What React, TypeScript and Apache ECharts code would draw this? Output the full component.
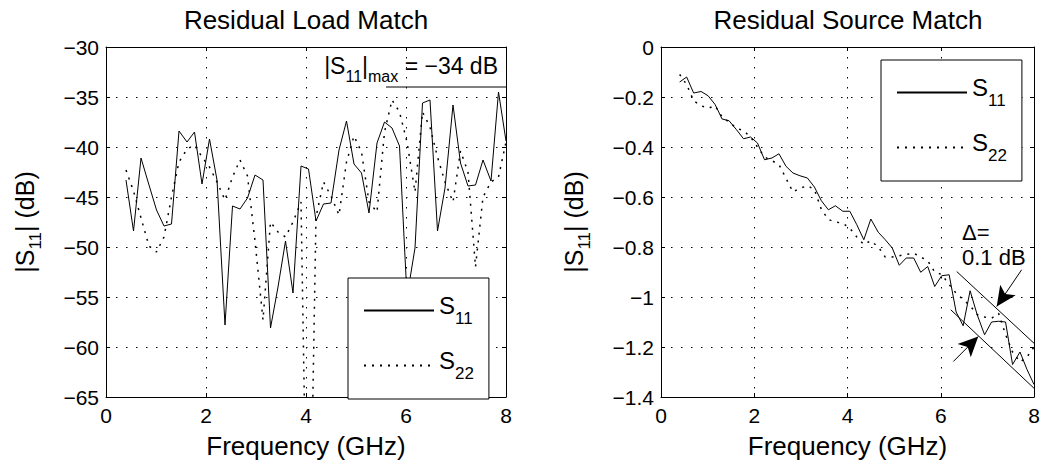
import React, { useEffect, useRef } from "react";
import * as echarts from "echarts";

const FONT = "'Liberation Sans', Arial, Helvetica, sans-serif";

// Frequency grid (GHz)
const freq = [
  0.40, 0.55, 0.70, 0.86, 1.01, 1.16, 1.31, 1.46, 1.62, 1.77,
  1.92, 2.07, 2.22, 2.38, 2.53, 2.68, 2.83, 2.98, 3.14, 3.29,
  3.44, 3.59, 3.74, 3.90, 4.05, 4.20, 4.35, 4.50, 4.66, 4.81,
  4.96, 5.11, 5.26, 5.42, 5.57, 5.72, 5.87, 6.02, 6.18, 6.33,
  6.48, 6.63, 6.78, 6.94, 7.09, 7.24, 7.39, 7.54, 7.70, 7.85, 8.00,
];

// Residual Load Match (dB)
const loadS11 = [
  -43.3, -48.4, -41.1, -43.8, -46.3, -47.9, -47.7, -38.4, -39.5, -38.5,
  -43.7, -39.2, -43.3, -57.8, -45.9, -46.2, -45.1, -42.8, -43.3, -58.1,
  -54.0, -49.4, -54.6, -41.9, -42.2, -47.4, -45.7, -45.6, -40.3, -37.4,
  -41.7, -42.6, -46.6, -39.6, -37.5, -38.1, -39.9, -55.0, -50.1, -35.6,
  -35.3, -48.4, -44.1, -35.8, -41.6, -43.9, -43.8, -41.3, -43.4, -34.5, -39.4,
];
const loadS22 = [
  -42.3, -44.4, -47.1, -49.9, -50.5, -49.0, -45.0, -41.5, -40.2, -39.8,
  -41.0, -42.0, -43.5, -45.3, -43.0, -41.3, -42.9, -49.4, -57.3, -47.5,
  -48.5, -49.0, -47.5, -45.5, -90.0, -47.0, -43.5, -44.9, -46.8, -41.5,
  -38.9, -40.5, -45.5, -46.5, -38.5, -35.3, -36.5, -39.5, -44.5, -36.5,
  -38.0, -41.0, -43.5, -45.5, -40.4, -42.5, -52.0, -45.0, -43.5, -43.0, -39.5,
];

// Residual Source Match (dB)
const srcS11 = [
  -0.14, -0.12, -0.184, -0.178, -0.195, -0.23, -0.288, -0.295, -0.331, -0.367,
  -0.36, -0.384, -0.451, -0.444, -0.427, -0.477, -0.504, -0.515, -0.524, -0.56,
  -0.615, -0.651, -0.635, -0.657, -0.657, -0.711, -0.771, -0.688, -0.741, -0.771,
  -0.804, -0.873, -0.844, -0.844, -0.901, -0.878, -0.958, -0.915, -0.911, -1.06,
  -1.115, -0.975, -1.07, -1.151, -1.10, -1.097, -1.10, -1.27, -1.22, -1.29, -1.35,
];
const srcS22 = [
  -0.11, -0.15, -0.215, -0.235, -0.245, -0.235, -0.28, -0.30, -0.325, -0.335,
  -0.36, -0.40, -0.44, -0.455, -0.47, -0.525, -0.58, -0.565, -0.555, -0.57,
  -0.65, -0.69, -0.70, -0.705, -0.725, -0.76, -0.79, -0.775, -0.80, -0.84,
  -0.84, -0.835, -0.83, -0.825, -0.84, -0.855, -0.90, -0.91, -0.95, -0.985,
  -1.01, -1.035, -1.07, -1.08, -1.085, -1.065, -1.15, -1.22, -1.26, -1.24, -1.20,
];

// Annotations (data coordinates)
const maxLineX = [5.6, 8.0];
const maxLineY = [-34, -34];
const bandUpperX = [6.342, 8.0];
const bandUpperY = [-0.898, -1.185];
const bandLowerX = [6.214, 8.0];
const bandLowerY = [-1.051, -1.365];
const arrowUpper = [[7.735, -0.891], [7.2, -1.038]];
const arrowLower = [[6.27, -1.258], [6.805, -1.158]];

const pair = (xs: number[], ys: number[]) => xs.map((x, i) => [x, ys[i]]);

const minus = (s: string) => s.replace("-", "\u2212");

function mainX(gridIndex: number) {
  return {
    type: "value",
    gridIndex,
    min: 0,
    max: 8,
    interval: 2,
    position: "bottom",
    axisLine: { show: true, onZero: false, lineStyle: { color: "#000", width: 1 } },
    axisTick: { show: true, inside: true, length: 4, lineStyle: { color: "#000" } },
    axisLabel: { color: "#000", fontSize: 21, fontFamily: FONT, margin: 8 },
    splitLine: { show: true, lineStyle: { color: "#000", width: 1, type: [1.5, 8.5] } },
    name: "Frequency (GHz)",
    nameLocation: "middle",
    nameGap: 36,
    nameTextStyle: { color: "#000", fontSize: 26, fontFamily: FONT },
  };
}
function topX(gridIndex: number) {
  return {
    type: "value",
    gridIndex,
    min: 0,
    max: 8,
    interval: 2,
    position: "top",
    axisLine: { show: true, onZero: false, lineStyle: { color: "#000", width: 1 } },
    axisTick: { show: true, inside: true, length: 4, lineStyle: { color: "#000" } },
    axisLabel: { show: false },
    splitLine: { show: false },
  };
}
const yName = "{a||S}{b|11}{a|| (dB)}";
const yNameStyle = {
  color: "#000",
  fontFamily: FONT,
  rich: {
    a: { fontSize: 25, lineHeight: 30, fontFamily: FONT, color: "#000" },
    b: { fontSize: 17, lineHeight: 30, fontFamily: FONT, color: "#000", padding: [20, 0, 0, 0] },
  },
};
function mainY(gridIndex: number, min: number, max: number, interval: number, gap: number) {
  return {
    type: "value",
    gridIndex,
    min,
    max,
    interval,
    position: "left",
    axisLine: { show: true, onZero: false, lineStyle: { color: "#000", width: 1 } },
    axisTick: { show: true, inside: true, length: 4, lineStyle: { color: "#000" } },
    axisLabel: {
      color: "#000",
      fontSize: 21,
      fontFamily: FONT,
      margin: 7,
      formatter: (v: number) => minus(String(parseFloat(v.toFixed(2)))),
    },
    splitLine: { show: true, lineStyle: { color: "#000", width: 1, type: [1.5, 8.5] } },
    name: yName,
    nameLocation: "middle",
    nameRotate: 90,
    nameGap: gap,
    nameTextStyle: yNameStyle,
  };
}
function rightY(gridIndex: number, min: number, max: number, interval: number) {
  return {
    type: "value",
    gridIndex,
    min,
    max,
    interval,
    position: "right",
    axisLine: { show: true, onZero: false, lineStyle: { color: "#000", width: 1 } },
    axisTick: { show: true, inside: true, length: 4, lineStyle: { color: "#000" } },
    axisLabel: { show: false },
    splitLine: { show: false },
  };
}

const solid = { color: "#000", width: 1, type: "solid" };
const dotted = { color: "#000", width: 1.5, type: [2, 6] };

function lineSeries(name: string, xi: number, data: number[][], style: any, extra: any = {}) {
  return {
    name,
    type: "line",
    xAxisIndex: xi,
    yAxisIndex: xi,
    data,
    symbol: "none",
    showSymbol: false,
    clip: true,
    lineStyle: style,
    itemStyle: { color: "#000" },
    z: 2,
    ...extra,
  };
}

const legendRich = {
  s: { fontSize: 24, lineHeight: 26, fontFamily: FONT, color: "#000", padding: [0, 0, 11, 0] },
  b: { fontSize: 17, lineHeight: 26, fontFamily: FONT, color: "#000", padding: [15, 0, 0, 0] },
};
function legend(names: string[], left: number, top: number) {
  return {
    data: names,
    left,
    top,
    orient: "vertical",
    selectedMode: false,
    padding: [15, 15, 16, 15],
    itemGap: 20,
    itemWidth: 70,
    itemHeight: 14,
    borderColor: "#000",
    borderWidth: 1,
    backgroundColor: "#fff",
    z: 10,
    itemStyle: { color: "rgba(0,0,0,0)", borderColor: "rgba(0,0,0,0)", borderWidth: 0, opacity: 0 },
    formatter: (n: string) => (n.startsWith("S11") ? "{s|S}{b|11}" : "{s|S}{b|22}"),
    textStyle: { color: "#000", fontFamily: FONT, rich: legendRich },
  };
}

function txt(x: number, y: number, text: string, fontSize: number, align: string, rich?: any) {
  return {
    type: "text",
    x,
    y,
    silent: true,
    z: 20,
    style: {
      text,
      fill: "#000",
      fontSize,
      fontFamily: FONT,
      align,
      textAlign: align,
      verticalAlign: "middle",
      textVerticalAlign: "middle",
      ...(rich ? { rich } : {}),
    },
  };
}

export default function App() {
  const ref = useRef<HTMLDivElement>(null);
  useEffect(() => {
    document.body.style.margin = "0";
    if (!ref.current) return;
    const chart = echarts.init(ref.current, undefined, { renderer: "svg" });
    const option: any = {
      animation: false,
      backgroundColor: "#fff",
      textStyle: { fontFamily: FONT },
      grid: [
        { left: 106, top: 47, width: 400, height: 350 },
        { left: 661, top: 47, width: 373, height: 350 },
      ],
      xAxis: [mainX(0), topX(0), mainX(1), topX(1)],
      yAxis: [
        mainY(0, -65, -30, 5, 66),
        rightY(0, -65, -30, 5),
        mainY(1, -1.4, 0, 0.2, 72),
        rightY(1, -1.4, 0, 0.2),
      ],
      legend: [legend(["S11_L", "S22_L"], 348, 278), legend(["S11_R", "S22_R"], 881, 60)],
      series: [
        lineSeries("S11_L", 0, pair(freq, loadS11), solid),
        lineSeries("S22_L", 0, pair(freq, loadS22), dotted),
        lineSeries("max", 0, pair(maxLineX, maxLineY), solid),
        lineSeries("S11_R", 2, pair(freq, srcS11), solid),
        lineSeries("S22_R", 2, pair(freq, srcS22), dotted),
        lineSeries("bandU", 2, pair(bandUpperX, bandUpperY), solid, {
          markLine: {
            silent: true,
            symbol: ["none", "arrow"],
            symbolSize: [14, 20],
            label: { show: false },
            lineStyle: { color: "#000", width: 1, type: "solid" },
            itemStyle: { color: "#000" },
            data: [
              [{ coord: arrowUpper[0] }, { coord: arrowUpper[1] }],
              [{ coord: arrowLower[0] }, { coord: arrowLower[1] }],
            ],
          },
        }),
        lineSeries("bandL", 2, pair(bandLowerX, bandLowerY), solid),
      ],
      graphic: {
        elements: [
          txt(306, 20, "Residual Load Match", 26, "center"),
          txt(848, 20, "Residual Source Match", 26, "center"),
          txt(498, 66, "{a||S}{b|11}{a||}{b|max}{a| = \u221234 dB}", 23, "right", {
            a: { fontSize: 23, lineHeight: 30, fontFamily: FONT, fill: "#000" },
            b: { fontSize: 16, lineHeight: 30, fontFamily: FONT, fill: "#000", padding: [20, 0, 0, 0] },
          }),
          txt(962, 232, "\u0394=", 22, "left"),
          txt(962, 257, "0.1 dB", 22, "left"),
        ],
      },
    };
    chart.setOption(option);
    return () => chart.dispose();
  }, []);
  return <div ref={ref} style={{ width: 1043, height: 464 }} />;
}
